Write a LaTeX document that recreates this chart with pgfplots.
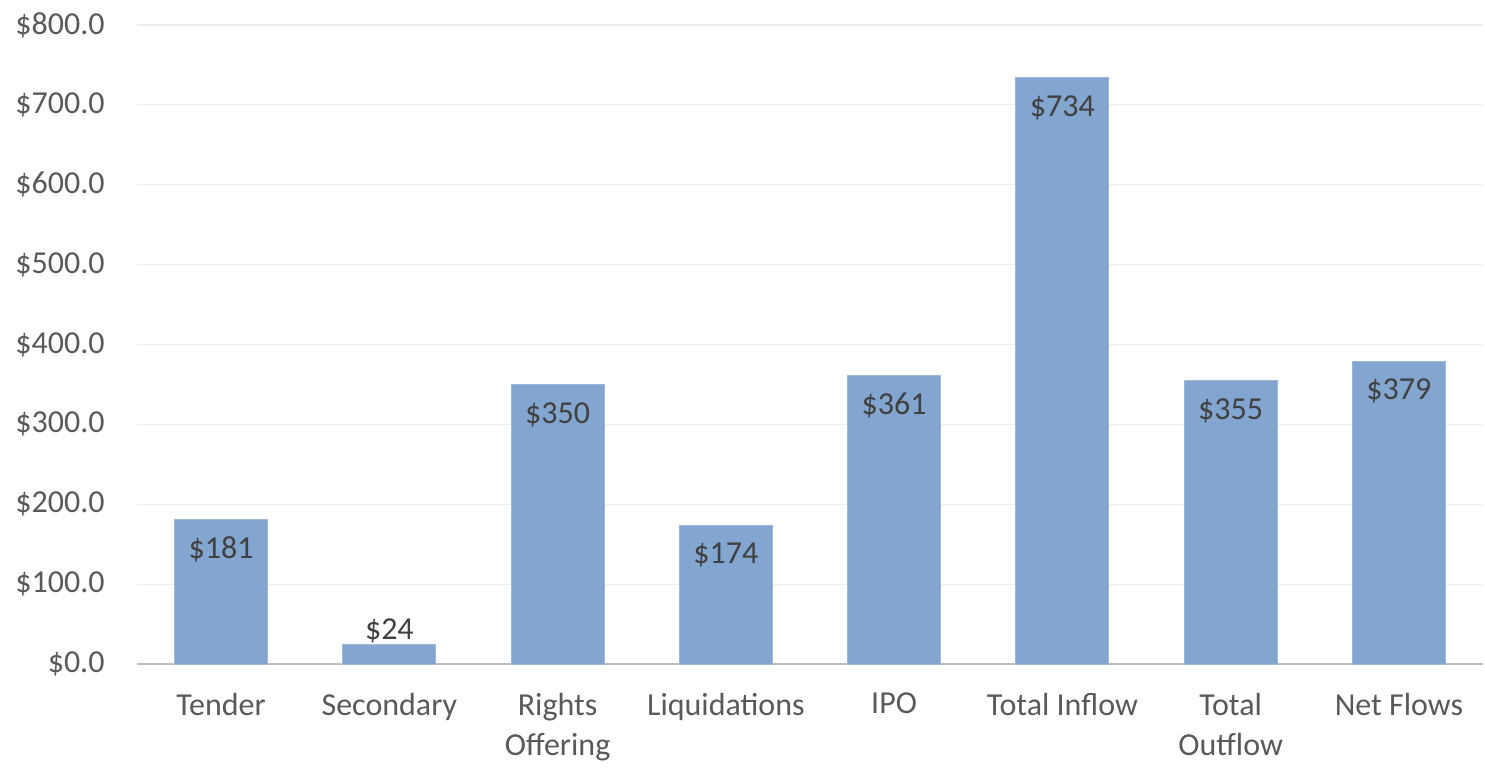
\documentclass[border=0pt]{standalone}
\usepackage{pgfplots}
\pgfplotsset{compat=1.18}
\usepackage{fontspec}
\setmainfont{Carlito}
\definecolor{barc}{RGB}{130,166,208}
\definecolor{tickc}{RGB}{89,89,89}
\definecolor{lblc}{RGB}{64,64,64}
\definecolor{gridc}{RGB}{237,237,237}
\definecolor{axc}{RGB}{191,191,191}
\begin{document}
\begin{tikzpicture}
\begin{axis}[
  scale only axis,
  width=673pt, height=319.5pt,
  xmin=-0.5, xmax=7.5,
  ymin=0, ymax=800,
  ytick={0,100,...,800},
  xtick={0,...,7},
  xticklabels={Tender,Secondary,{Rights\\Offering},Liquidations,IPO,Total Inflow,{Total\\Outflow},Net Flows},
  axis line style={draw=none},
  tick style={draw=none},
  ymajorgrids,
  grid style={gridc, line width=0.6pt},
  font=\fontsize{16}{20}\selectfont,
  yticklabel={\$\pgfmathprintnumber[fixed,fixed zerofill,precision=1]{\tick}},
  yticklabel style={color=tickc, xshift=-12.7pt},
  xticklabel style={color=tickc, align=center, anchor=north, yshift=-11pt},
  /pgf/number format/assume math mode=true,
  enlarge x limits=false,
  clip=false,
]
\path ([xshift=-68.5pt,yshift=12.5pt]rel axis cs:0,1);
\path ([xshift=1pt,yshift=-48.5pt]rel axis cs:1,0);
\draw[axc, line width=1.2pt] (axis cs:-0.5,0) -- (axis cs:7.5,0);
\addplot[ybar, bar width=46.5pt, fill=barc, draw=barc!80!white, line width=0.4pt,
  nodes near coords={\$\pgfmathprintnumber[fixed,precision=0]{\pgfplotspointmeta}},
  every node near coord/.append style={anchor=center, yshift=-15pt, color=lblc, font=\fontsize{16}{20}\selectfont},
] coordinates {(0,181) (2,350) (3,174) (4,361) (5,734) (6,355) (7,379)};
\addplot[ybar, bar width=46.5pt, fill=barc, draw=barc!80!white, line width=0.4pt,
  nodes near coords={\$\pgfmathprintnumber[fixed,precision=0]{\pgfplotspointmeta}},
  every node near coord/.append style={anchor=center, yshift=7pt, color=lblc, font=\fontsize{16}{20}\selectfont},
] coordinates {(1,24)};
\end{axis}
\end{tikzpicture}
\end{document}
